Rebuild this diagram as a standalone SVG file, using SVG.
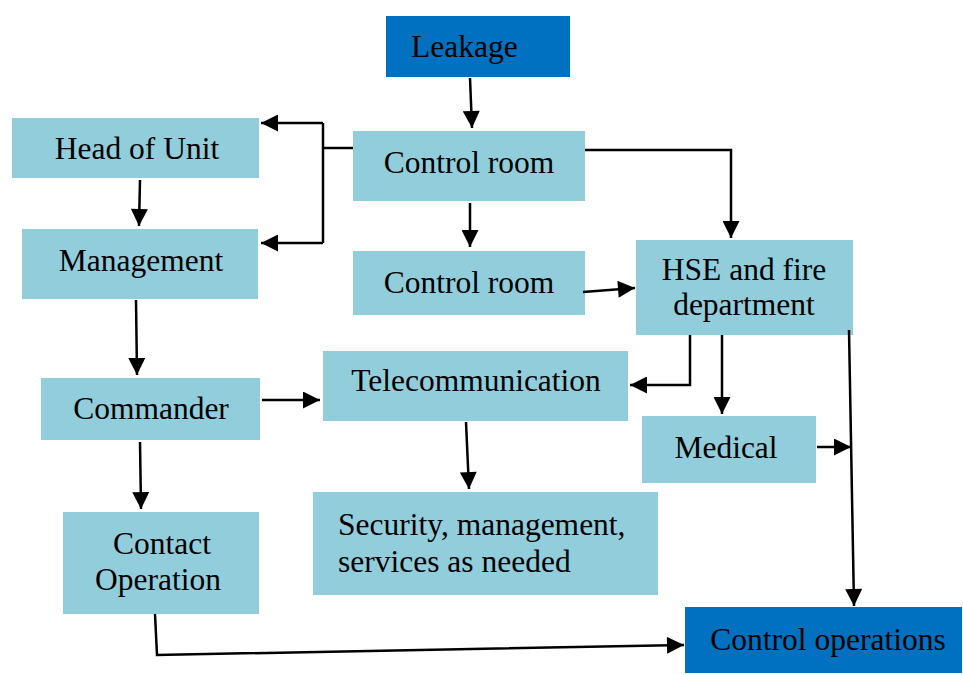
<svg xmlns="http://www.w3.org/2000/svg" width="963" height="675" viewBox="0 0 963 675">
<defs>
<style>
.n{fill:#92CDDC}
.d{fill:#0070C0}
text{font-family:"Liberation Serif","Times New Roman",serif;font-size:31.5px;fill:#000}
.c{text-anchor:middle}
.e{fill:none;stroke:#000;stroke-width:2.5}
</style>
<marker id="a" viewBox="0 0 10 10" refX="10" refY="5" markerWidth="18" markerHeight="17" markerUnits="userSpaceOnUse" orient="auto">
<path d="M0,0L10,5L0,10z" fill="#000"/>
</marker>
</defs>
<rect width="963" height="675" fill="#fff"/>
<g id="leakage"><rect class="d" x="386" y="16" width="184" height="61"/><text x="411" y="57">Leakage</text></g>
<g id="control-room-1"><rect class="n" x="353" y="131" width="232" height="70"/><text class="c" x="469" y="173">Control room</text></g>
<g id="head-of-unit"><rect class="n" x="12" y="118" width="247" height="60"/><text class="c" x="137" y="159">Head of Unit</text></g>
<g id="management"><rect class="n" x="22" y="229" width="236" height="70"/><text class="c" x="141" y="271">Management</text></g>
<g id="control-room-2"><rect class="n" x="353" y="251" width="232" height="64"/><text class="c" x="469" y="293">Control room</text></g>
<g id="hse"><rect class="n" x="636" y="240" width="217" height="95"/><text class="c" x="744" y="280">HSE and fire</text><text class="c" x="744" y="315">department</text></g>
<g id="commander"><rect class="n" x="41" y="378" width="219" height="62"/><text class="c" x="151" y="419">Commander</text></g>
<g id="telecommunication"><rect class="n" x="323" y="351" width="305" height="70"/><text class="c" x="476" y="391">Telecommunication</text></g>
<g id="medical"><rect class="n" x="642" y="416" width="174" height="67"/><text class="c" x="726" y="458">Medical</text></g>
<g id="contact-operation"><rect class="n" x="63" y="512" width="196" height="102"/><text class="c" x="162" y="554">Contact</text><text class="c" x="158" y="590">Operation</text></g>
<g id="security"><rect class="n" x="313" y="492" width="345" height="103"/><text x="338" y="535">Security, management,</text><text x="338" y="572">services as needed</text></g>
<g id="control-operations"><rect class="d" x="685" y="607" width="277" height="66"/><text class="c" x="828" y="650">Control operations</text></g>
<g id="connectors">
<path class="e" d="M470,78L472,128" marker-end="url(#a)"/>
<path class="e" d="M353,148H323"/>
<path class="e" d="M323,123V243"/>
<path class="e" d="M323,123H261" marker-end="url(#a)"/>
<path class="e" d="M323,243H261" marker-end="url(#a)"/>
<path class="e" d="M585,150H731V238" marker-end="url(#a)"/>
<path class="e" d="M470,203V247" marker-end="url(#a)"/>
<path class="e" d="M583,292L635,288" marker-end="url(#a)"/>
<path class="e" d="M140,180L139,226" marker-end="url(#a)"/>
<path class="e" d="M136,300L137,375" marker-end="url(#a)"/>
<path class="e" d="M262,400H320" marker-end="url(#a)"/>
<path class="e" d="M140,442L141,509" marker-end="url(#a)"/>
<path class="e" d="M466,422L469,489" marker-end="url(#a)"/>
<path class="e" d="M690,335V385H630" marker-end="url(#a)"/>
<path class="e" d="M722,335V414" marker-end="url(#a)"/>
<path class="e" d="M849,330L854,606" marker-end="url(#a)"/>
<path class="e" d="M817,447H851" marker-end="url(#a)"/>
<path class="e" d="M155,614L157,655L684,645" marker-end="url(#a)"/>
</g>
</svg>
